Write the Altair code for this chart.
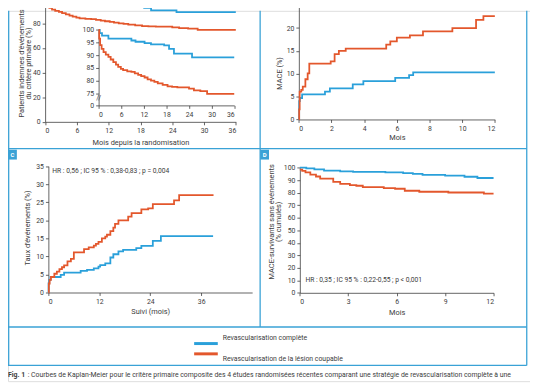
import altair as alt
import pandas as pd

# ---------------- data ----------------
series = ["Revascularisation complète", "Revascularisation de la lésion coupable"]

# Panel A (event-free patients, %), same curves in main plot and inset
a_blue_t = [0, 0.3, 0.9, 2.6, 8.7, 9.8, 12.2, 13.9, 17.4, 18.7, 20.0, 24.8, 36]
a_blue_v = [100, 98.7, 97.7, 96.5, 95.8, 95.3, 94.8, 94.3, 93.9, 92.5, 90.6, 89.1, 89.1]
a_red_t = [0, 0.15, 0.4, 0.8, 1.3, 1.9, 2.6, 3.2, 3.9, 4.6, 5.2, 5.9, 6.5, 7.6, 8.7, 9.6,
           10.5, 11.3, 12.2, 13.0, 13.9, 14.8, 15.7, 17.0, 18.3, 19.5, 20.9, 24.0, 25.3, 27.0, 28.8, 36]
a_red_v = [100, 96.5, 94.0, 92.5, 91.2, 90.2, 89.3, 88.3, 87.3, 86.3, 85.4, 84.6, 84.1, 83.6, 83.4, 82.8,
           82.2, 81.7, 81.2, 80.5, 80.0, 79.5, 78.9, 78.3, 77.7, 77.5, 77.3, 76.8, 76.1, 75.8, 74.7, 74.7]

# Panel B (MACE, %)
b_blue_t = [0, 0.02, 0.06, 0.2, 1.6, 1.9, 3.3, 3.95, 5.9, 6.75, 7.0, 12]
b_blue_v = [0, 4.0, 4.7, 5.5, 6.1, 6.8, 7.7, 8.4, 9.1, 9.7, 10.3, 10.3]
b_red_t = [0, 0.02, 0.05, 0.15, 0.24, 0.4, 0.54, 0.64, 1.95, 2.19, 2.45, 2.87, 5.35, 5.6, 6.0,
           6.8, 7.6, 9.4, 10.85, 11.3, 12]
b_red_v = [0, 2.2, 6.1, 6.5, 7.2, 8.8, 10.1, 12.2, 12.7, 14.3, 15.0, 15.5, 16.4, 17.1, 17.9,
           18.4, 19.3, 20.0, 21.8, 22.6, 22.6]

# Panel C (event rate, %)
c_blue_t = [0, 0.05, 0.2, 0.5, 2.9, 3.7, 7.6, 9.1, 10.7, 11.8, 12.2, 13.4, 14.6, 15.3, 16.5,
            17.6, 20.7, 21.9, 24.6, 26.5, 38.8]
c_blue_v = [0, 2.5, 3.5, 4.3, 4.9, 5.5, 6.0, 6.3, 6.7, 7.2, 7.6, 8.1, 9.7, 10.6, 11.4,
            11.8, 12.3, 12.9, 14.3, 15.6, 15.6]
c_red_t = [0, 0.1, 0.3, 0.6, 1.4, 2.0, 2.6, 3.2, 3.7, 4.5, 5.3, 6.0, 8.4, 9.5, 10.7, 11.2, 11.8,
           12.6, 13.4, 13.8, 14.6, 15.3, 15.7, 16.5, 18.8, 19.6, 21.9, 23.5, 24.6, 29.6, 30.8, 38.9]
c_red_v = [0, 2.5, 3.5, 4.3, 5.2, 5.8, 6.5, 7.0, 7.5, 8.6, 9.3, 11.1, 12.0, 12.5, 13.0, 13.5, 14.0,
           15.0, 15.5, 16.0, 17.0, 18.0, 19.0, 20.0, 21.0, 22.0, 23.0, 23.3, 24.5, 25.5, 27.0, 27.0]

# Panel D (MACE-free survivors, cumulative %)
d_blue_t = [0, 0.4, 0.9, 1.5, 2.5, 3.3, 5.3, 6.4, 7.0, 7.6, 9.0, 10.2, 11.0, 12]
d_blue_v = [100, 99.5, 98.7, 97.7, 97.0, 96.6, 96.2, 95.6, 95.0, 94.3, 93.6, 92.8, 91.8, 91.8]
d_red_t = [0, 0.15, 0.35, 0.65, 1.0, 1.26, 2.07, 2.5, 3.1, 3.5, 3.9, 5.2, 5.9, 6.5, 7.4, 9.2, 11.4, 12]
d_red_v = [98.5, 97.5, 96.3, 94.5, 93.0, 91.3, 88.7, 87.1, 86.1, 85.6, 84.5, 83.7, 83.2, 81.6,
           80.8, 80.2, 79.3, 79.3]

a_x_ticks = [0, 6, 12, 18, 24, 30, 36]
a_y_ticks = [0, 20, 40, 60, 80]
inset_y_ticks = [70.2, 75, 80, 85, 90, 95, 100]
b_x_ticks = [0, 2, 4, 6, 8, 10, 12]
b_y_ticks = [0, 5, 10, 15, 20, 25]
c_x_ticks = [0, 12, 24, 36]
c_y_ticks = [0, 5, 10, 15, 20, 25, 30, 35]
d_x_ticks = [0, 3, 6, 9, 12]
d_y_ticks = [0, 10, 20, 30, 40, 50, 60, 70, 80, 90, 100]

hr_c = ["HR : 0,56 ; IC 95 % : 0,38-0,83 ; p = 0,004"]
hr_d = ["HR :  0,35 ; IC 95 % : 0,22-0,55 ; p < 0,001"]
caption_bold = ["Fig. 1"]
caption_rest = [": Courbes de Kaplan-Meier pour le critère primaire composite des 4 études randomisées "
                "récentes comparant une stratégie de revascularisation complète à une"]

# ---------------- style ----------------
W, H = 530, 376
BLUE = "#2aa0da"
RED = "#e3572c"
FRAME = "#3aa2d6"
TXT = "#3c3c3c"
FONT = "Roboto"

common_axis = dict(grid=False, tickSize=3, tickColor=TXT, tickWidth=0.8, domainColor=TXT,
                   domainWidth=0.8, labelFontSize=7, labelFont=FONT, labelColor=TXT,
                   labelPadding=2, titleFont=FONT, titleFontSize=7.5, titleFontWeight="normal",
                   titleColor=TXT)


def km_df(tb, vb, tr, vr):
    return pd.DataFrame({
        "t": list(tb) + list(tr),
        "v": list(vb) + list(vr),
        "serie": [series[0]] * len(tb) + [series[1]] * len(tr),
    })


color = alt.Color("serie:N", scale=alt.Scale(domain=series, range=[BLUE, RED]), legend=None)


def xaxis(ypix, values, title, tpad=3, **kw):
    return alt.Axis(orient="bottom", offset=ypix - H, values=values, title=title,
                    titlePadding=tpad, **common_axis, **kw)


def yaxis(xpix, values, title, tx=None, ty=None, lh=7.5, **kw):
    extra = dict(kw)
    if tx is not None:
        extra.update(titleX=tx - xpix, titleY=ty, titleAngle=270, titleAlign="center",
                     titleBaseline="middle", titleLineHeight=lh)
    return alt.Axis(orient="left", offset=-xpix, values=values, title=title,
                    **common_axis, **extra)


def lines(df, xdom, xr, ydom, yr, xax, yax):
    return alt.Chart(df).mark_line(interpolate="step-after", strokeWidth=1.8, clip=False).encode(
        x=alt.X("t:Q", scale=alt.Scale(domain=xdom, range=xr, nice=False, zero=False), axis=xax),
        y=alt.Y("v:Q", scale=alt.Scale(domain=ydom, range=yr, nice=False, zero=False), axis=yax),
        color=color,
    )


dfA = km_df(a_blue_t, a_blue_v, a_red_t, a_red_v)
dfB = km_df(b_blue_t, b_blue_v, b_red_t, b_red_v)
dfC = km_df(c_blue_t, c_blue_v, c_red_t, c_red_v)
dfD = km_df(d_blue_t, d_blue_v, d_red_t, d_red_v)

# Panel A main
A_main = lines(dfA, [0, 36], [37.7, 231.3], [0, 100], [112.7, -12.3],
               xaxis(112.7, a_x_ticks, "Mois depuis la randomisation", 5),
               yaxis(37.7, a_y_ticks, ["Patients indemnes d'événements", "du critère primaire (%)"],
                     tx=13.5, ty=53, lh=7.2))
# Panel A inset
A_inset = lines(dfA, [0, 36], [92, 229.7], [70.2, 100], [96, 19.3],
                xaxis(96, a_x_ticks, ""),
                yaxis(92, inset_y_ticks, "", labelExpr="datum.value < 74 ? '0' : datum.label"))
brk = alt.Chart(pd.DataFrame({"s": ["//"]})).mark_text(
    font=FONT, fontSize=7, color=TXT, align="center", baseline="middle").encode(
    x=alt.value(92), y=alt.value(88.5), text="s:N")

# Panel B
B = lines(dfB, [0, 12], [295.3, 494.3], [0, 25], [110.3, -5.7],
          xaxis(110.3, b_x_ticks, "Mois", 2),
          yaxis(295.3, b_y_ticks, "MACE (%)", tx=275.3, ty=63))
# Panel C
C = lines(dfC, [0, 48], [41, 247.9], [0, 35], [286, 157.7],
          xaxis(286, c_x_ticks, "Suivi (mois)", 3),
          yaxis(41, c_y_ticks, "Taux d'événements (%)", tx=20.3, ty=220))
# Panel D
D = lines(dfD, [0, 12], [296.3, 493], [0, 100], [286.3, 159.3],
          xaxis(286.3, d_x_ticks, "Mois", 4),
          yaxis(296.3, d_y_ticks, ["MACE-survivants sans événements", "(% cumulés)"],
                tx=267.5, ty=213.7, lh=7.6))


def txt(values, x, y, size=6.8, weight="normal", color_=TXT, align="left"):
    return alt.Chart(pd.DataFrame({"s": values})).mark_text(
        font=FONT, fontSize=size, fontWeight=weight, color=color_, align=align,
        baseline="middle").encode(x=alt.value(x), y=alt.value(y), text="s:N")


hrC = txt(hr_c, 45, 163)
hrD = txt(hr_d, 302, 273)

# Frame
dummy = pd.DataFrame({"k": [0]})


def vrule(x, y1, y2):
    return alt.Chart(dummy).mark_rule(color=FRAME, strokeWidth=1.3).encode(
        x=alt.value(x), y=alt.value(y1), y2=alt.value(y2))


def hrule(y, x1, x2):
    return alt.Chart(dummy).mark_rule(color=FRAME, strokeWidth=1.3).encode(
        y=alt.value(y), x=alt.value(x1), x2=alt.value(x2))


frame = [vrule(0.7, 0, 360), vrule(526.7, 0, 360), vrule(256, 0, 321),
         hrule(140, 0, 526.7), hrule(321, 0, 526.7), hrule(360, 0, 526.7)]


def box(x, y, letter):
    r = alt.Chart(dummy).mark_rect(color=FRAME).encode(
        x=alt.value(x), x2=alt.value(x + 9), y=alt.value(y), y2=alt.value(y + 10))
    t = txt([letter], x + 4.5, y + 5, size=6, weight="bold", color_="white", align="center")
    return [r, t]


boxes = box(0, 141, "C") + box(256, 141, "D")

# Legend (manual)
leg_df = pd.DataFrame({"serie": series})
leg_y = alt.Y("serie:N", scale=alt.Scale(domain=series, range=[332.6, 353.5], padding=0), axis=None)
leg_lines = alt.Chart(leg_df).mark_rule(strokeWidth=3).encode(
    x=alt.value(189), x2=alt.value(213), y=leg_y, color=color)
leg_text = alt.Chart(leg_df).mark_text(font=FONT, fontSize=7, color=TXT, align="left",
                                       baseline="middle").encode(
    x=alt.value(218), y=leg_y, text="serie:N")

cap1 = txt(caption_bold, 0, 370, size=7, weight="bold")
cap2 = txt(caption_rest, 20, 370, size=7)

chart = alt.layer(
    *frame, *boxes, A_main, A_inset, brk, B, C, D, hrC, hrD, leg_lines, leg_text, cap1, cap2
).resolve_scale(x="independent", y="independent").properties(
    width=W, height=H, autosize=alt.AutoSizeParams(type="none"), padding=0
).configure_view(stroke=None).configure(background="white")

chart.save("out.html", embed_options={"renderer": "svg", "actions": False})
